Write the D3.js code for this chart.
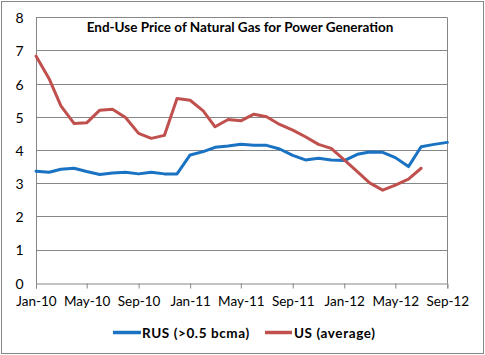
<!DOCTYPE html>
<html><head><meta charset="utf-8">
<script src="https://cdn.jsdelivr.net/npm/d3@7"></script>
<style>body{margin:0;background:#fff}svg{display:block}</style>
</head><body>
<script>
const months = d3.range(33).map(i => new Date(2010, i, 1));
const tickLabels = ["Jan-10","May-10","Sep-10","Jan-11","May-11","Sep-11","Jan-12","May-12","Sep-12"];
const yTicks = [0,1,2,3,4,5,6,7,8];
const rusValues = [3.36,3.33,3.42,3.45,3.35,3.26,3.31,3.33,3.28,3.33,3.28,3.28,3.85,3.95,4.08,4.12,4.17,4.14,4.14,4.03,3.84,3.70,3.75,3.70,3.68,3.87,3.94,3.93,3.77,3.50,4.10,4.17,4.23];
const usValues = [6.83,6.15,5.33,4.80,4.82,5.20,5.23,4.98,4.50,4.35,4.44,5.55,5.50,5.18,4.70,4.92,4.88,5.08,5.00,4.77,4.60,4.40,4.17,4.05,3.70,3.35,3.01,2.79,2.94,3.12,3.45];
const seriesNames = ["RUS (>0.5 bcma)","US (average)"];
const colors = ["#1a72c2","#c0504d"];
const title = "End-Use Price of Natural Gas for Power Generation";

const W = 485, H = 355;
const svg = d3.select("body").append("svg").attr("width", W).attr("height", H);
const font = "Lato, 'Open Sans', sans-serif";

svg.append("rect").attr("x",1.5).attr("y",1.5).attr("width",482).attr("height",352)
  .attr("fill","#fff").attr("stroke","#868686");

const x = d3.scaleTime().domain([months[0], months[32]]).range([36, 447.3]);
const y = d3.scaleLinear().domain([0,8]).range([282.7, 17.3]);

// gridlines
svg.append("g").selectAll("line").data(yTicks.filter(d=>d>0)).join("line")
  .attr("x1",36).attr("x2",447.3).attr("y1",d=>Math.round(y(d))+0.5).attr("y2",d=>Math.round(y(d))+0.5)
  .attr("stroke","#868686").attr("stroke-width",1);
// right border
svg.append("line").attr("x1",447.5).attr("x2",447.5).attr("y1",Math.round(y(8))+0.5).attr("y2",Math.round(y(0))+0.5)
  .attr("stroke","#868686");

// y axis
const yAxis = svg.append("g").attr("transform","translate(36.5,0.5)")
  .call(d3.axisLeft(y).tickValues(yTicks).tickSize(0).tickPadding(13).tickFormat(d3.format("d")));
yAxis.select(".domain").attr("stroke","#868686").attr("d", `M0,${Math.round(y(8))}V${Math.round(y(0))}`);
yAxis.selectAll("text").attr("font-family",font).attr("font-size",14).attr("fill","#000").attr("dy","0.35em");

// x axis
const tickDates = d3.range(0,33,4).map(i=>months[i]);
const xAxis = svg.append("g").attr("transform",`translate(0,${Math.round(y(0))+0.5})`)
  .call(d3.axisBottom(x).tickValues(tickDates).tickSize(5).tickPadding(8).tickFormat((d,i)=>tickLabels[i]));
xAxis.select(".domain").attr("stroke","#868686");
xAxis.selectAll("line").attr("stroke","#868686");
xAxis.selectAll("text").attr("font-family",font).attr("font-size",13.5).attr("fill","#000");

// lines
const line = d3.line().x((d,i)=>x(months[i])).y(d=>y(d)).curve(d3.curveLinear);
[rusValues, usValues].forEach((vals,k)=>{
  svg.append("path").datum(vals).attr("d", line).attr("fill","none")
    .attr("stroke", colors[k]).attr("stroke-width",3).attr("stroke-linejoin","round").attr("stroke-linecap","round");
});

// title
svg.append("text").attr("x",240).attr("y",32).attr("text-anchor","middle")
  .attr("font-family",font).attr("font-weight","bold").attr("font-size",13.5).attr("fill","#000").text(title);

// legend
const legend = [{x1:113,x2:141,tx:142},{x1:265,x2:292,tx:294}];
legend.forEach((l,k)=>{
  svg.append("line").attr("x1",l.x1).attr("x2",l.x2).attr("y1",332.5).attr("y2",332.5)
    .attr("stroke",colors[k]).attr("stroke-width",3.5);
  svg.append("text").attr("x",l.tx).attr("y",337.5).attr("font-family",font).attr("font-weight","bold")
    .attr("font-size",13.5).attr("letter-spacing","0.6px").attr("fill","#000").text(seriesNames[k]);
});
</script>
</body></html>
